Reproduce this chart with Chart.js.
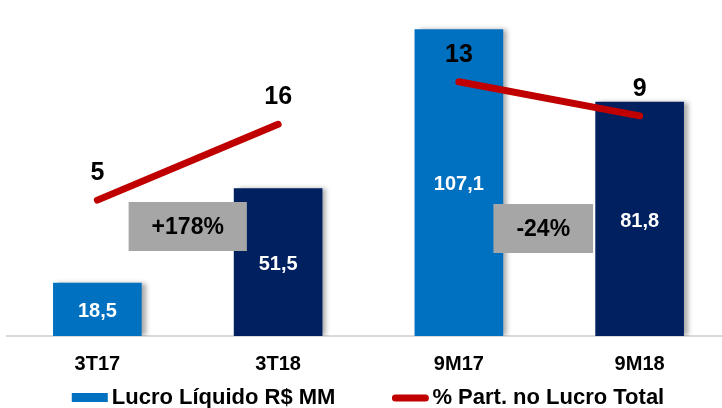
<!DOCTYPE html>
<html>
<head>
<meta charset="utf-8">
<script src="https://cdn.jsdelivr.net/npm/chart.js@4.4.0/dist/chart.umd.min.js"></script>
<style>
  html, body { margin: 0; padding: 0; background: #fff; overflow: hidden; }
  #wrap { width: 730px; height: 408px; }
</style>
</head>
<body>
<div id="wrap"><canvas id="myChart"></canvas></div>
<script>
'use strict' ;

const periods = ['3T17', '3T18', '9M17', '9M18'] ;
const lucro = [18.5, 51.5, 107.1, 81.8] ;
const partTrim = [5, 16, null, null] ;
const partNove = [null, null, 13, 9] ;
const changes = ['+178%', '-24%'] ;
const barColors = ['#0070C0', '#002060', '#0070C0', '#002060'] ;
const seriesNames = ['Lucro Líquido R$ MM', '% Part. no Lucro Total'] ;

const FONT = '"Liberation Sans", Arial, sans-serif' ;
const RED = '#C00000' ;

function fmt (v)
{
  return v.toFixed(1).replace('.', ',') ;
}

// soft shadow on the right side of the bars
const barShadow = {
  id: 'barShadow',
  beforeDatasetDraw (chart, args) {
    if (args.index !== 0) return ;
    const ctx = chart.ctx ;
    ctx.save() ;
    ctx.shadowColor = 'rgba(0,0,0,0.35)' ;
    ctx.shadowBlur = 5 ;
    ctx.shadowOffsetX = 4 ;
    ctx.shadowOffsetY = 0 ;
  },
  afterDatasetDraw (chart, args) {
    if (args.index !== 0) return ;
    chart.ctx.restore() ;
  }
} ;

const valueLabels = {
  id: 'valueLabels',
  afterDatasetsDraw (chart) {
    const ctx = chart.ctx ;
    const x = chart.scales.x ;
    const area = chart.chartArea ;
    ctx.save() ;
    ctx.textAlign = 'center' ;
    ctx.textBaseline = 'middle' ;

    // gray change boxes between the compared bars
    ctx.font = 'bold 23px ' + FONT ;
    for (let i = 0 ; i < changes.length ; i++)
    {
      let mid = (x.getPixelForValue(i * 2) + x.getPixelForValue(i * 2 + 1)) / 2 - 6 * i ;
      let w = ctx.measureText(changes[i]).width + 46 ;
      let cy = area.top + 219 + 2 * i ;
      ctx.fillStyle = '#A6A6A6' ;
      ctx.fillRect(mid - w / 2, cy - 24, w, 49) ;
      ctx.fillStyle = '#000' ;
      ctx.fillText(changes[i], mid, cy + 2) ;
    }

    // bar values
    ctx.font = 'bold 20px ' + FONT ;
    ctx.fillStyle = '#fff' ;
    chart.getDatasetMeta(0).data.forEach((bar, i) => {
      ctx.fillText(fmt(lucro[i]), bar.x, (bar.y + bar.base) / 2 + 2) ;
    }) ;

    // line values
    ctx.font = 'bold 25px ' + FONT ;
    ctx.fillStyle = '#000' ;
    [1, 2].forEach(d => {
      const vals = chart.data.datasets[d].data ;
      chart.getDatasetMeta(d).data.forEach((pt, i) => {
        if (vals[i] === null) return ;
        ctx.fillText(String(vals[i]), pt.x, pt.y - 27) ;
      }) ;
    }) ;
    ctx.restore() ;
  }
} ;

const bottomLegend = {
  id: 'bottomLegend',
  afterDraw (chart) {
    const ctx = chart.ctx ;
    ctx.save() ;
    ctx.font = 'bold 22px ' + FONT ;
    ctx.textBaseline = 'middle' ;
    ctx.textAlign = 'left' ;
    const y = 398 ;
    const sw = 36 , gap = 4 , itemGap = 57 ;
    const w0 = ctx.measureText(seriesNames[0]).width ;
    const w1 = ctx.measureText(seriesNames[1]).width ;
    const total = sw + gap + w0 + itemGap + sw + gap + w1 ;
    let x0 = 368 - total / 2 ;

    ctx.fillStyle = barColors[0] ;
    ctx.fillRect(x0, y - 5, sw, 9) ;
    ctx.fillStyle = '#000' ;
    ctx.fillText(seriesNames[0], x0 + sw + gap, y) ;

    let x1 = x0 + sw + gap + w0 + itemGap ;
    ctx.strokeStyle = RED ;
    ctx.lineWidth = 7 ;
    ctx.lineCap = 'round' ;
    ctx.beginPath() ;
    ctx.moveTo(x1 + 3, y) ;
    ctx.lineTo(x1 + sw - 3, y) ;
    ctx.stroke() ;
    ctx.fillText(seriesNames[1], x1 + sw + gap, y) ;
    ctx.restore() ;
  }
} ;

let ctx = document.getElementById('myChart').getContext('2d') ;
let myChart = new Chart(ctx, {
  type: 'bar',
  data: {
    labels: periods,
    datasets: [
      {
        label: seriesNames[0],
        data: lucro,
        backgroundColor: barColors,
        borderWidth: 0,
        barThickness: 88,
        yAxisID: 'y',
        order: 1
      },
      {
        type: 'line',
        label: seriesNames[1],
        data: partTrim,
        borderColor: RED,
        borderWidth: 7,
        borderCapStyle: 'round',
        pointRadius: 0,
        pointHoverRadius: 0,
        spanGaps: false,
        fill: false,
        yAxisID: 'y1',
        order: 0
      },
      {
        type: 'line',
        label: seriesNames[1],
        data: partNove,
        borderColor: RED,
        borderWidth: 7,
        borderCapStyle: 'round',
        pointRadius: 0,
        pointHoverRadius: 0,
        spanGaps: false,
        fill: false,
        yAxisID: 'y2',
        order: 0
      }
    ]
  },
  options: {
    responsive: true,
    maintainAspectRatio: false,
    animation: false,
    layout: { padding: { top: 7, left: 7, right: 0, bottom: 16 } },
    plugins: {
      legend: { display: false },
      tooltip: { enabled: false }
    },
    scales: {
      x: {
        grid: { display: false, drawTicks: false },
        border: { display: true, color: '#D9D9D9', width: 2 },
        ticks: { color: '#000', padding: 16, font: { family: FONT, size: 20, weight: 'bold' } }
      },
      y: { display: false, min: 0, max: 115 },
      y1: { display: false, min: -14.7, max: 33 },
      y2: { display: false, min: -16.9, max: 21.8 }
    }
  },
  plugins: [barShadow, valueLabels, bottomLegend]
}) ;
</script>
</body>
</html>
